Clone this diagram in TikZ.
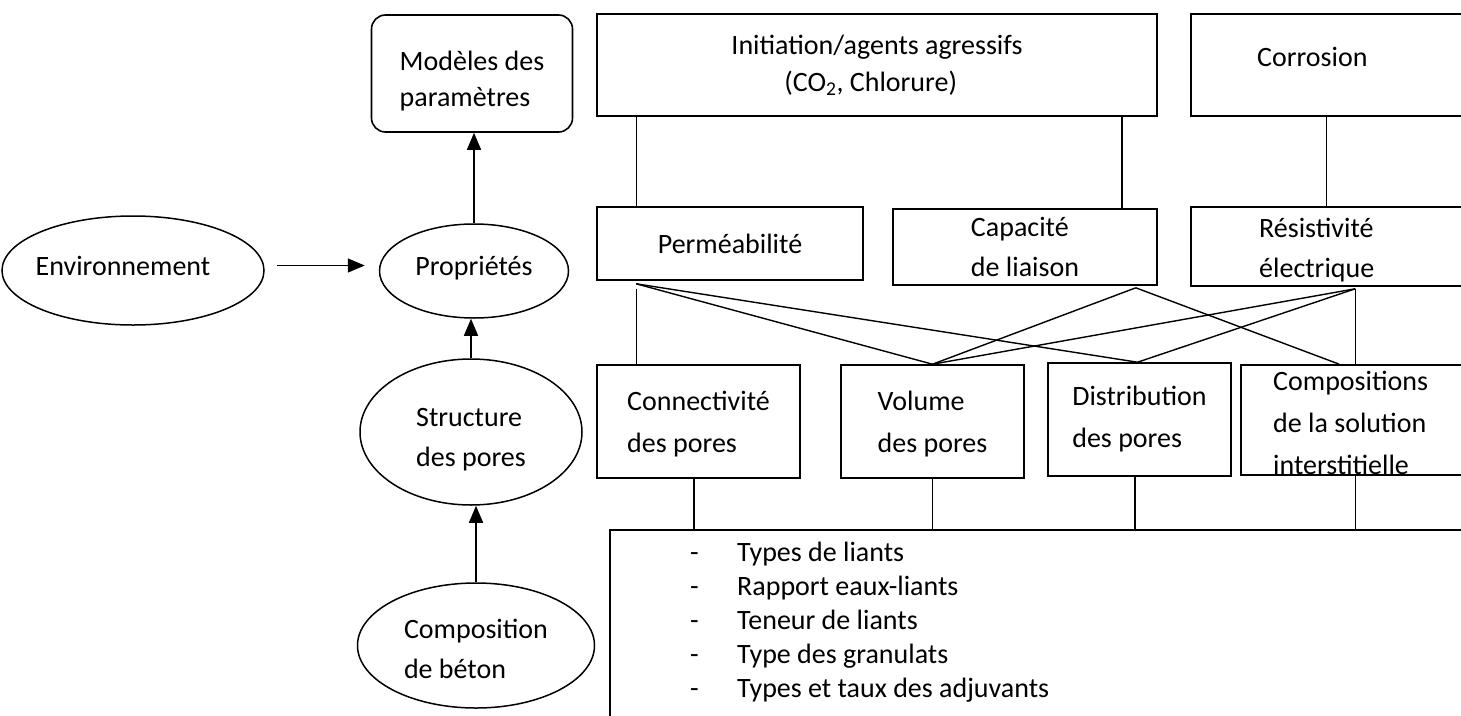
\documentclass[tikz,border=0pt]{standalone}
\usepackage{fontspec}
\setmainfont{Carlito}
\usetikzlibrary{shapes.geometric,arrows.meta}
\tikzset{
boite/.style={draw, line width=1.6pt, rectangle, inner sep=0pt, align=left},
bulle/.style={draw, line width=1.5pt, ellipse, inner sep=0pt, align=left},
texte/.style={inner sep=0pt, align=left},
lien/.style={line width=1.4pt},
fleche/.style={line width=1.5pt, -{Triangle[length=17pt,width=14pt]}}
}
\newcommand{\cale}[2]{\rule[-#1]{0pt}{#2}}

\begin{document}
\begin{tikzpicture}[x=1pt, y=-1pt, every node/.style={font=\fontsize{28}{40}\selectfont}]
\useasboundingbox (0,0) rectangle (1461,715);
\node[boite, rounded corners=14pt, minimum width=201pt, minimum height=117pt, font=\fontsize{28}{36}\selectfont] (modeles) at (472,73.5) {\cale{0pt}{35pt}Modèles des\\paramètres};
\node[bulle, minimum width=262pt, minimum height=109pt] (envir) at (133,270.5) {\hspace*{-20pt}Environnement\cale{10pt}{10pt}};
\node[bulle, minimum width=189pt, minimum height=94pt] (prop) at (474,271) {Propriétés\cale{10pt}{10pt}};
\node[bulle, minimum width=222pt, minimum height=146pt] (struct) at (471,432) {\cale{0pt}{33pt}Structure\\des pores};
\node[bulle, minimum width=237pt, minimum height=125pt] (compo) at (476,645.5) {\cale{0pt}{26pt}Composition\\de béton};
\draw[fleche, shorten <=12pt, shorten >=14pt] ([yshift=5pt]envir.east) -- ([yshift=5pt]envir.east -| prop.west);
\draw[fleche] (prop.north) -- (prop.north |- modeles.south);
\draw[fleche] (struct.north) -- (struct.north |- prop.south);
\draw[fleche] (compo.north) -- (compo.north |- struct.south);

\node[boite, minimum width=560pt, minimum height=102pt, font=\fontsize{28}{37}\selectfont] (init) at (877,65) {Initiation/agents agressifs\\\hspace*{53pt}(CO\textsubscript{2}, Chlorure)};
\node[boite, minimum width=300pt, minimum height=102pt] (corros) at (1341,65) {};
\node[texte, anchor=west] (corros-txt) at (1257,57) {Corrosion};
\node[boite, minimum width=266pt, minimum height=73pt] (perm) at (730,243.5) {Perméabilité};
\node[boite, minimum width=264pt, minimum height=76pt] (capa) at (1025,247) {Capacité\\de liaison};
\node[boite, minimum width=300pt, minimum height=79pt] (resist) at (1341,246.5) {};
\node[texte, anchor=west] (resist-txt) at (1259,250) {Résistivité\\électrique};

\node[boite, minimum width=203pt, minimum height=113pt, font=\fontsize{28}{42}\selectfont] (connect) at (698.5,421.5) {\cale{0pt}{25pt}Connectivité\\des pores};
\node[boite, minimum width=183pt, minimum height=113pt, font=\fontsize{28}{42}\selectfont] (volume) at (932.5,421.5) {\cale{0pt}{25pt}Volume\\des pores};
\node[boite, minimum width=183pt, minimum height=113pt, font=\fontsize{28}{42}\selectfont] (distrib) at (1139.5,419.5) {Distribution\\des pores};
\node[boite, minimum width=240pt, minimum height=110pt] (compsol) at (1361,420) {};
\node[texte, anchor=west, font=\fontsize{28}{42}\selectfont] (compsol-txt) at (1273,423) {Compositions\\de la solution\\interstitielle};

\node[boite, anchor=north west, minimum width=900pt, minimum height=250pt] (liste) at (609,529) {};
\foreach \ligne [count=\i from 0] in {Types de liants, Rapport eaux-liants, Teneur de liants, Type des granulats, Types et taux des adjuvants}
  \node[texte, anchor=base west] (item-\i) at (690,561+34*\i) {\makebox[47pt][l]{-}\ligne};

\draw[lien] ([xshift=40pt]perm.north west) -- ([xshift=40pt]perm.north west |- init.south);
\draw[lien] ([xshift=-36pt]capa.north east) -- ([xshift=-36pt]capa.north east |- init.south);
\draw[lien] ([xshift=136pt]resist.north west) -- ([xshift=136pt]resist.north west |- corros.south);

\coordinate (p1) at ([xshift=40pt,yshift=-3pt]perm.south west);
\coordinate (c1) at ([xshift=-22pt,yshift=-2pt]capa.south east);
\coordinate (r1) at ([xshift=165pt,yshift=-2pt]resist.south west);
\draw[lien] (p1) -- (volume.north);
\draw[lien] (p1) -- ([xshift=-2pt]distrib.north);
\draw[lien] ([yshift=-5pt]p1) -- (p1 |- connect.north);
\draw[lien] (c1) -- (volume.north);
\draw[lien] (c1) -- ([xshift=99pt]compsol.north west);
\draw[lien] (r1) -- (volume.north);
\draw[lien] (r1) -- ([xshift=-2pt]distrib.north);
\draw[lien] (r1) -- (r1 |- compsol.north);

\draw[lien] ([xshift=-4.5pt]connect.south) -- ([xshift=-4.5pt]connect.south |- liste.north);
\draw[lien] (volume.south) -- (volume.south |- liste.north);
\draw[lien] ([xshift=-4.5pt]distrib.south) -- ([xshift=-4.5pt]distrib.south |- liste.north);
\draw[lien] (r1 |- compsol.south) -- (r1 |- liste.north);
\end{tikzpicture}
\end{document}
